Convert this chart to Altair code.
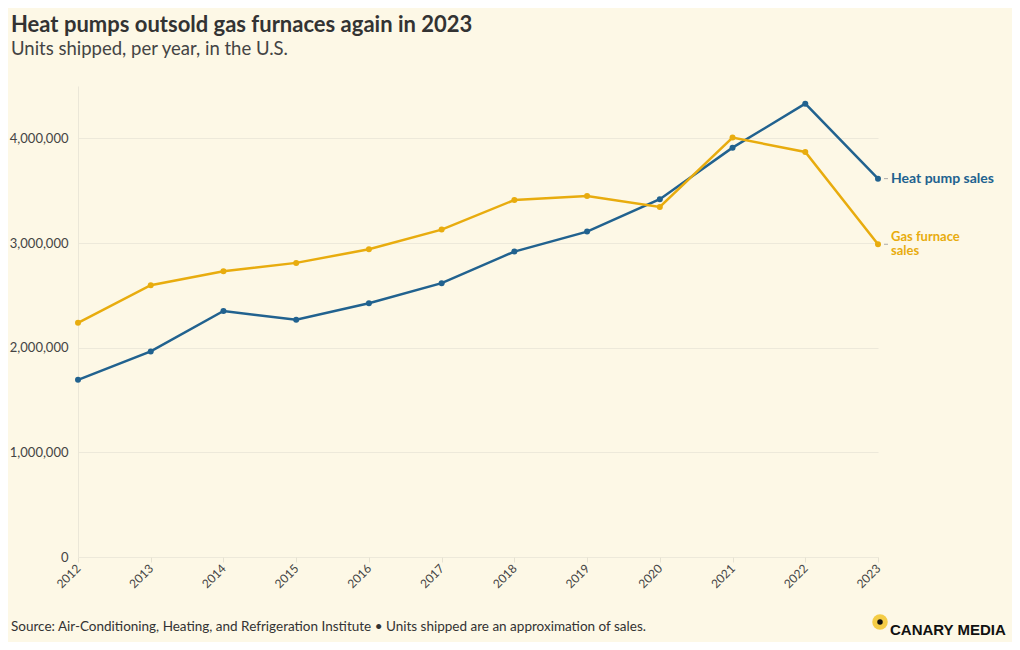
import altair as alt
import pandas as pd

years = list(range(2012, 2024))
heat_pump = [1693000, 1964000, 2351000, 2266000, 2425000, 2616000,
             2918000, 3109000, 3418000, 3911000, 4331000, 3615000]
gas_furnace = [2237000, 2597000, 2730000, 2810000, 2940000, 3128000,
               3411000, 3449000, 3344000, 4007000, 3870000, 2988000]
series_names = ["Heat pump sales", "Gas furnace sales"]
series_labels = ["Heat pump sales", "Gas furnace\nsales"]
series_colors = ["#21628f", "#e8ac0e"]
y_ticks = [0, 1000000, 2000000, 3000000, 4000000]

FONT = "Lato"
BG = "#fdf8e6"

rows = []
for name, vals in zip(series_names, [heat_pump, gas_furnace]):
    for yr, v in zip(years, vals):
        rows.append({"year": yr, "value": v, "series": name})
df = pd.DataFrame(rows)

last = pd.DataFrame({
    "year": [years[-1], years[-1]],
    "value": [heat_pump[-1], gas_furnace[-1]],
    "series": series_names,
    "label": series_labels,
})

color_scale = alt.Scale(domain=series_names, range=series_colors)

x_enc = alt.X("year:Q", scale=alt.Scale(domain=[years[0], years[-1]], nice=False),
              axis=alt.Axis(values=years, format="d", labelAngle=-45, title=None,
                            domain=False, tickColor="#e6e2d2", tickSize=5,
                            labelColor="#444", labelFontSize=12, labelFont=FONT,
                            labelAlign="right", labelBaseline="middle",
                            labelPadding=4, grid=False))
y_enc = alt.Y("value:Q", scale=alt.Scale(domain=[0, 4500000], nice=False),
              axis=alt.Axis(values=y_ticks, format=",.0f", title=None, ticks=False,
                            domainColor="#ebe7d8", labelColor="#444",
                            labelFontSize=13, labelFont=FONT, labelPadding=10,
                            gridColor="#ede9da", grid=True))

base = alt.Chart(df)
lines = base.mark_line(strokeWidth=2.5).encode(
    x=x_enc, y=y_enc,
    color=alt.Color("series:N", scale=color_scale, legend=None),
    detail="series:N",
)
points = base.mark_circle(size=36, opacity=1).encode(
    x="year:Q", y="value:Q",
    color=alt.Color("series:N", scale=color_scale, legend=None),
)

lab = alt.Chart(last)
dashes = lab.mark_rule(color="#aaa", strokeWidth=1, xOffset=6, x2Offset=10).encode(
    x="year:Q", x2="year:Q", y="value:Q",
)
label_hp = lab.transform_filter(alt.datum.series == series_names[0]).mark_text(
    align="left", baseline="middle", dx=13, font=FONT, fontSize=14,
    fontWeight="bold").encode(
    x="year:Q", y="value:Q", text="label:N",
    color=alt.Color("series:N", scale=color_scale, legend=None),
)
label_gas = lab.transform_filter(alt.datum.series == series_names[1]).mark_text(
    align="left", baseline="middle", dx=13, dy=-7, font=FONT, fontSize=13,
    fontWeight="bold", lineBreak="\n", lineHeight=14).encode(
    x="year:Q", y="value:Q", text="label:N",
    color=alt.Color("series:N", scale=color_scale, legend=None),
)

dummy = alt.Data(values=[{"a": 1}])
footer = alt.Chart(dummy).mark_text(
    align="left", baseline="middle", font=FONT, fontSize=13.5, color="#333",
    text="Source: Air-Conditioning, Heating, and Refrigeration Institute \u2022 Units shipped are an approximation of sales."
).encode(x=alt.value(-67), y=alt.value(541))

logo_outer = alt.Chart(dummy).mark_circle(size=240, color="#f4cc45", opacity=1).encode(
    x=alt.value(802), y=alt.value(536))
logo_inner = alt.Chart(dummy).mark_circle(size=30, color="#111", opacity=1).encode(
    x=alt.value(802), y=alt.value(536))
logo_text = alt.Chart(dummy).mark_text(
    align="left", baseline="middle", font="Liberation Sans", fontSize=15,
    fontWeight="bold", color="#111", text="CANARY MEDIA"
).encode(x=alt.value(812), y=alt.value(544))

chart = alt.layer(lines, points, dashes, label_hp, label_gas, footer,
                  logo_outer, logo_inner, logo_text).properties(
    width=800, height=471,
    autosize=alt.AutoSizeParams(type="none"),
    padding={"left": 70, "top": 78, "right": 134, "bottom": 85},
    background=BG,
    title=alt.TitleParams(
        text="Heat pumps outsold gas furnaces again in 2023",
        subtitle="Units shipped, per year, in the U.S.",
        anchor="start", frame="group", dx=-67, offset=27,
        font=FONT, fontSize=22, fontWeight="bold", color="#333",
        subtitleFont=FONT, subtitleFontSize=18.5, subtitleColor="#444",
        subtitlePadding=3,
    ),
).configure_view(stroke=None)

chart.save("out.html", embed_options={"renderer": "svg", "actions": False})
